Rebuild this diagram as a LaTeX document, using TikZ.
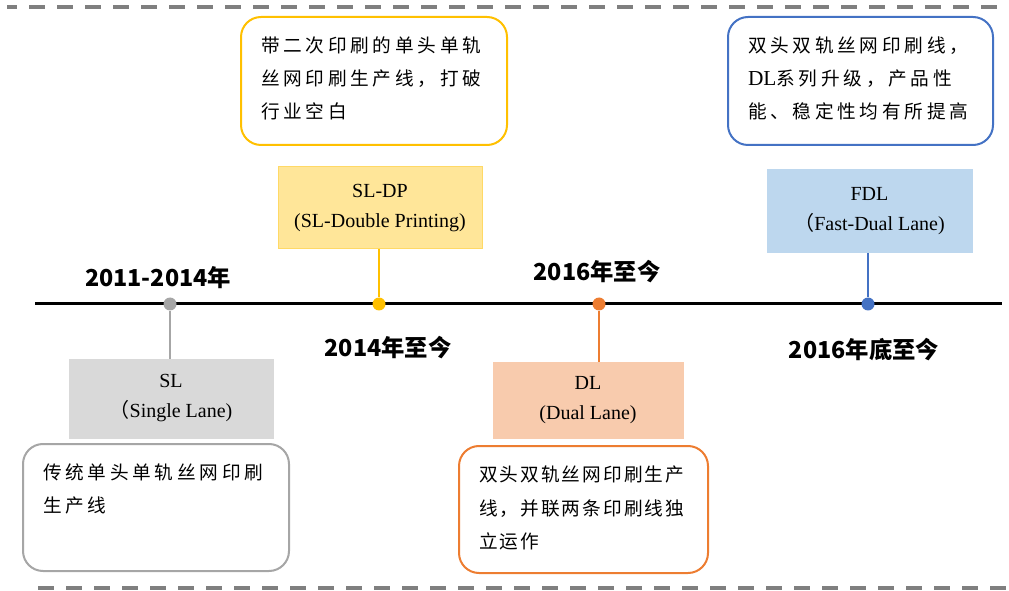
\documentclass[tikz,border=0pt]{standalone}
\usepackage{fontspec}
\setmainfont{Liberation Serif}
\newfontfamily\lserif{Liberation Serif}
\newfontfamily\cjk{Noto Sans CJK SC}
\newfontfamily\cjksp[LetterSpace=20]{Noto Sans CJK SC}
\newfontfamily\cjkspb[LetterSpace=11]{Noto Sans CJK SC}
\definecolor{cyel}{HTML}{FFC000}
\definecolor{cblu}{HTML}{4472C4}
\definecolor{cgry}{HTML}{A6A6A6}
\definecolor{corg}{HTML}{ED7D31}
\definecolor{fyel}{HTML}{FFE699}
\definecolor{byel}{HTML}{FFD966}
\definecolor{fblu}{HTML}{BDD7EE}
\definecolor{fgry}{HTML}{D9D9D9}
\definecolor{forg}{HTML}{F8CBAD}
\definecolor{dashgray}{HTML}{7F7F7F}
\tikzset{
  dashline/.style={draw=dashgray, line width=3pt, dash pattern=on 12pt off 9pt},
  timeline/.style={draw=black, line width=2.25pt},
  dotnode/.style={circle, inner sep=0pt, minimum size=9.75pt},
  stem/.style={line width=1.5pt},
  lbl/.style={rectangle, inner sep=0pt, align=center, line width=0.75pt, font=\lserif\fontsize{15}{22.5}\selectfont},
  rbox/.style={rectangle, rounded corners=15pt, line width=1.5pt, inner xsep=15pt, inner ysep=15pt, fill=white},
  yr/.style={font=\cjk\bfseries\fontsize{17.5}{19}\selectfont, inner sep=0pt},
}
\begin{document}
\begin{tikzpicture}[x=0.75pt,y=-0.75pt]
\useasboundingbox (0,0) rectangle (1009,591);
% dashed borders
\coordinate (dtl) at (7,7); \coordinate (dtr) at (1009,7);
\coordinate (dbl) at (38,588); \coordinate (dbr) at (1009,588);
\draw[dashline, dash phase=4.5pt] (dtl) -- (dtr);
\draw[dashline] (dbl) -- (dbr);
% timeline
\coordinate (tl) at (35,304); \coordinate (tr) at (1002,304);
\draw[timeline] (tl) -- (tr);
% label boxes
\node[lbl, fill=fyel, draw=byel, minimum width=153pt, minimum height=61.5pt] (sldp) at (380,208) {SL-DP\\(SL-Double Printing)};
\node[lbl, fill=fblu, draw=fblu, minimum width=153.75pt, minimum height=62.25pt] (fdl) at (869.5,211.5) {FDL\\{\cjk （}Fast-Dual Lane)};
\node[lbl, fill=fgry, draw=fgry, minimum width=153pt, minimum height=59.25pt] (sl) at (171,398.5) {SL\\{\cjk （}Single Lane)};
\node[lbl, fill=forg, draw=forg, minimum width=142.5pt, minimum height=57pt] (dl) at (588,400) {DL\\(Dual Lane)};
% dots
\node[dotnode, fill=cgry] (d1) at (170,304) {};
\node[dotnode, fill=cyel] (d2) at (379,304) {};
\node[dotnode, fill=corg] (d3) at (599,304) {};
\node[dotnode, fill=cblu] (d4) at (868,304) {};
% stems
\draw[stem, cgry] (d1) -- (d1 |- sl.north);
\draw[stem, cyel] (d2) -- (d2 |- sldp.south);
\draw[stem, corg] (d3) -- (d3 |- dl.north);
\draw[stem, cblu] (d4) -- (d4 |- fdl.south);
% years
\node[yr] (y1) at (158,278) {2011-2014年};
\node[yr] (y2) at (388,348) {2014年至今};
\node[yr] (y3) at (597,272) {2016年至今};
\node[yr] (y4) at (864,350) {2016年底至今};
% description boxes
\node[rbox, draw=cyel] (ny) at (374,81) {\parbox[c][66pt][t]{169.5pt}{\cjksp\fontsize{14}{24.75}\selectfont 带二次印刷的单头单轨\\丝网印刷生产线，打破\\行业空白}};
\node[rbox, draw=cblu] (nb) at (860.5,81) {\parbox[c][66pt][t]{168.75pt}{\cjksp\fontsize{14}{24.75}\selectfont 双头双轨丝网印刷线，\\{\lserif\fontsize{16}{24.75}\selectfont DL}系列升级，产品性\\能、稳定性均有所提高}};
\node[rbox, draw=cgry] (ng) at (156,507.5) {\parbox[c][65.25pt][t]{169.5pt}{\cjksp\fontsize{14}{24.75}\selectfont 传统单头单轨丝网印刷\\生产线}};
\node[rbox, draw=corg] (no) at (583.5,509.5) {\parbox[c][65.25pt][t]{156.75pt}{\cjkspb\fontsize{14}{25}\selectfont 双头双轨丝网印刷生产\\线，并联两条印刷线独\\立运作}};
\end{tikzpicture}
\end{document}
